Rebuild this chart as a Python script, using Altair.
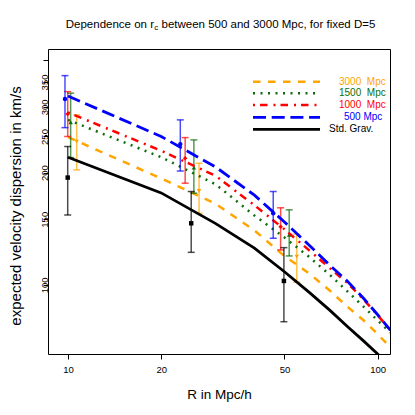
import altair as alt
import pandas as pd

# ---------------- data ----------------
R_CURVE = [10, 20, 30, 40, 50, 60, 70, 80, 90, 100, 110]
SIG_STD = [220, 176.5, 146, 125.5, 108.5, 95.7, 85.6, 77.3, 70.8, 65.3, 60.2]
SIG_500 = [321, 250, 207, 174, 147.5, 128, 113, 102.2, 92.1, 83.2, 75.6]
SIG_1000 = [290, 229, 196, 163.5, 141, 124, 111, 101, 91.5, 83, 75.5]
SIG_1500 = [277, 220, 186, 153.5, 134, 119, 106.5, 96, 87.5, 80.3, 74.5]
SIG_3000 = [249, 193, 165, 140, 119.5, 107.5, 96.6, 87.3, 80.4, 73.8, 68]

ERR_500_R = [9.78, 23.05, 46.0]
ERR_500_MID = [315, 238.5, 155.7]
ERR_500_LO = [264, 202, 133.4]
ERR_500_HI = [364, 277, 178]

ERR_1000_R = [9.98, 23.9, 48.6]
ERR_1000_MID = [287.3, 218.6, 143.3]
ERR_1000_LO = [250, 187.4, 124.1]
ERR_1000_HI = [329.8, 248.3, 161]

ERR_1500_R = [10.2, 25.5, 51.8]
ERR_1500_MID = [273, 206.3, 136.2]
ERR_1500_LO = [219.5, 176.2, 119.6]
ERR_1500_HI = [326.6, 244.8, 159]

ERR_3000_R = [10.67, 26.5, 54.8]
ERR_3000_MID = [242.2, 178.6, 119.1]
ERR_3000_LO = [203.4, 155.7, 101.7]
ERR_3000_HI = [285.6, 212, 136.8]

ERR_STD_R = [9.98, 25.0, 49.8]
ERR_STD_MID = [194, 146.3, 102.5]
ERR_STD_LO = [154, 122.3, 79.7]
ERR_STD_HI = [235, 178, 125.9]

LEGEND_LABELS = ["3000\u00a0\u00a0Mpc", "1500\u00a0\u00a0Mpc", "1000\u00a0\u00a0Mpc", "500 Mpc", "Std. Grav."]
X_TICKS = [10, 20, 50, 100]
Y_TICKS = [100, 150, 200, 250, 300, 350, 400]
TITLE_A = "Dependence on r"
TITLE_SUB = "c"
TITLE_B = "between 500 and 3000 Mpc, for fixed D=5"
X_TITLE = "R in Mpc/h"
Y_TITLE = "expected velocity dispersion in km/s"

# ---------------- styling ----------------
FONT = "Liberation Sans"
W, H = 342, 305
XS = alt.Scale(type="log", domain=[8.62, 109.6], nice=False)
YS = alt.Scale(type="log", domain=[65.3, 429], nice=False)

series = [
    (SIG_3000, ERR_3000_R, ERR_3000_MID, ERR_3000_LO, ERR_3000_HI, "#FFA500", [7.5, 7.5], 2.5, "triangle-down"),
    (SIG_1500, ERR_1500_R, ERR_1500_MID, ERR_1500_LO, ERR_1500_HI, "#0a6e0a", [2, 5.5], 2.5, "triangle-up"),
    (SIG_1000, ERR_1000_R, ERR_1000_MID, ERR_1000_LO, ERR_1000_HI, "#FF0000", [2, 5, 7.5, 6], 2.5, "diamond"),
    (SIG_500, ERR_500_R, ERR_500_MID, ERR_500_LO, ERR_500_HI, "#0000FF", [13, 5.7], 2.8, "circle"),
    (SIG_STD, ERR_STD_R, ERR_STD_MID, ERR_STD_LO, ERR_STD_HI, "#000000", None, 2.8, "square"),
]

x_axis = alt.Axis(values=X_TICKS, title=X_TITLE, labelExpr="datum.value", labelPadding=5,
                  titleX=W / 2, titleY=44, titleBaseline="alphabetic", titleFontSize=13.5)
y_axis = alt.Axis(values=Y_TICKS, title=Y_TITLE,
                  labelExpr="datum.value == 400 ? '' : datum.value",
                  labelAngle=270, labelAlign="center", labelBaseline="alphabetic",
                  labelPadding=-4,
                  titleAngle=270, titleX=-28, titleY=H / 2 + 4, titleAlign="center",
                  titleBaseline="alphabetic", titleFontSize=15)


def ex(field):
    return alt.X(f"{field}:Q", scale=XS, axis=x_axis)


def ey(field):
    return alt.Y(f"{field}:Q", scale=YS, axis=y_axis)


layers = []
one = pd.DataFrame({"a": [0]})
leg_y = [32.7, 44.3, 56, 68.3, 80.3]
leg_tx = [291, 291, 291, 296, 281]

for i, (curve, er, em, elo, ehi, col, dash, lw, shape) in enumerate(series):
    cdf = pd.DataFrame({"R": R_CURVE, "sigma": curve})
    lk = dict(color=col, strokeWidth=lw, clip=True, strokeCap="butt")
    if dash:
        lk["strokeDash"] = dash
    layers.append(alt.Chart(cdf).mark_line(**lk).encode(x=ex("R"), y=ey("sigma")))

    edf = pd.DataFrame({"R": er, "mid": em, "lo": elo, "hi": ehi})
    base = alt.Chart(edf)
    layers.append(base.mark_rule(color=col, strokeWidth=1.5, opacity=0.7).encode(
        x=ex("R"), y=ey("lo"), y2="hi:Q"))
    for c in ["lo", "hi"]:
        layers.append(base.mark_tick(color=col, orient="horizontal", size=7, thickness=1.5, opacity=0.7).encode(
            x=ex("R"), y=ey(c)))
    layers.append(base.mark_point(color=col, filled=True, opacity=1, shape=shape, size=20).encode(
        x=ex("R"), y=ey("mid")))

    rk = dict(color=col, strokeWidth=lw, strokeCap="butt")
    if dash:
        rk["strokeDash"] = dash
    layers.append(alt.Chart(one).mark_rule(**rk).encode(
        x=alt.value(205), x2=alt.value(272), y=alt.value(leg_y[i])))
    layers.append(alt.Chart(one).mark_text(
        text=LEGEND_LABELS[i], color=col, font=FONT, fontSize=10, align="left", baseline="middle").encode(
        x=alt.value(leg_tx[i]), y=alt.value(leg_y[i])))

# title with subscript
layers.append(alt.Chart(one).mark_text(text=TITLE_A, font=FONT, fontSize=11.5, align="right",
                                       baseline="alphabetic", color="black").encode(
    x=alt.value(106), y=alt.value(-21.3)))
layers.append(alt.Chart(one).mark_text(text=TITLE_SUB, font=FONT, fontSize=8, align="left",
                                       baseline="alphabetic", color="black").encode(
    x=alt.value(106.3), y=alt.value(-18.8)))
layers.append(alt.Chart(one).mark_text(text=TITLE_B, font=FONT, fontSize=11.5, align="left",
                                       baseline="alphabetic", color="black").encode(
    x=alt.value(113.5), y=alt.value(-21.3)))

chart = alt.layer(*layers).properties(
    width=W, height=H,
    autosize=alt.AutoSizeParams(type="none"),
    padding={"left": 40, "top": 41, "right": 17, "bottom": 53},
).configure_view(stroke="black", strokeWidth=1).configure_axis(
    grid=False, domain=False, tickColor="black", tickSize=5, tickWidth=1,
    labelFont=FONT, labelFontSize=9.5, labelColor="black",
    titleFont=FONT, titleFontWeight="normal", titleColor="black",
)

chart.save("out.html", embed_options={"renderer": "svg", "actions": False})
